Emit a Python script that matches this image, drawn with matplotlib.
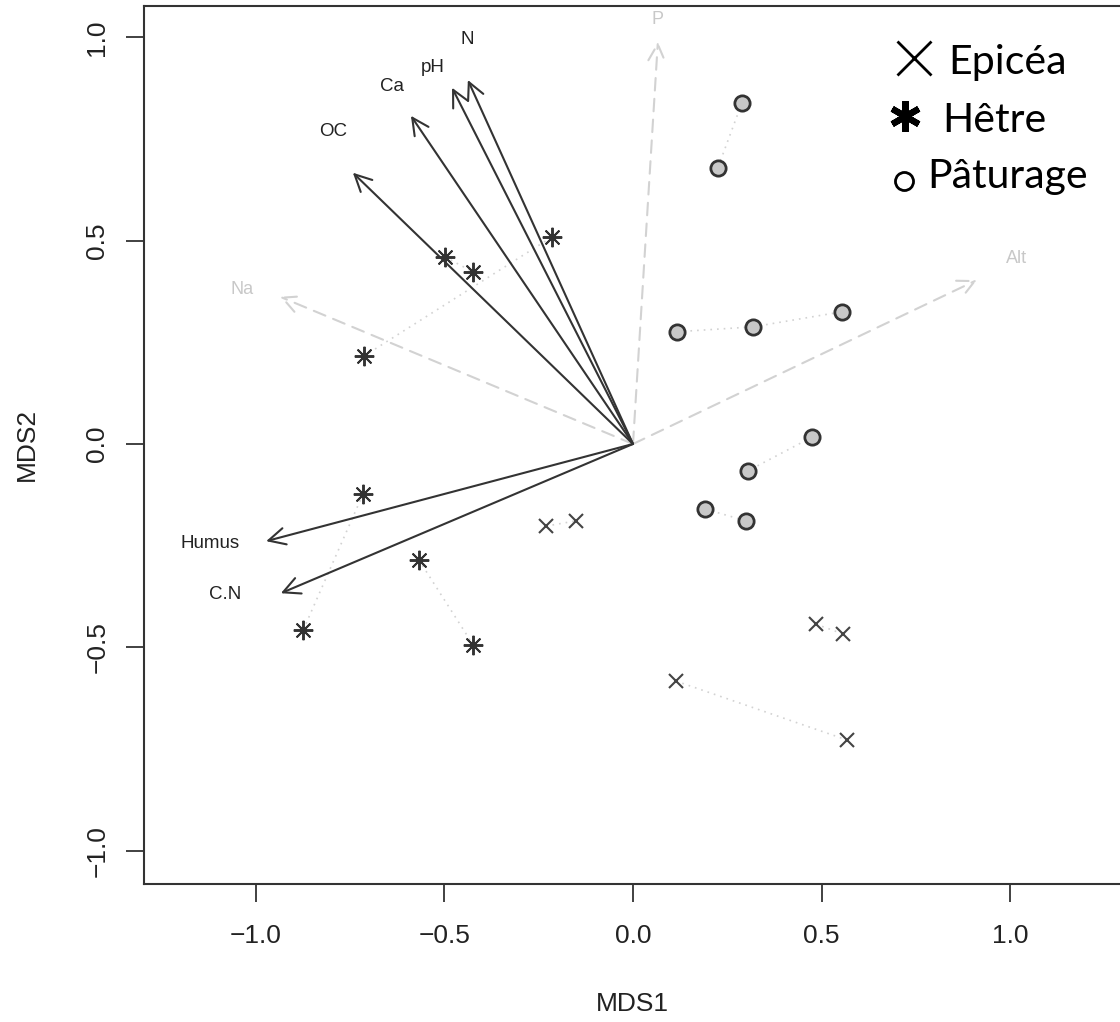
import matplotlib.pyplot as plt
from matplotlib.lines import Line2D

plt.rcParams['font.family'] = ['Liberation Sans', 'DejaVu Sans']

# ---- data ----
# fitted environmental vectors (solid = significant)
env_names = ['OC', 'Ca', 'pH', 'N', 'Humus', 'C.N']
env_x = [-0.743, -0.589, -0.480, -0.438, -0.973, -0.934]
env_y = [0.667, 0.807, 0.876, 0.895, -0.239, -0.367]
env_lab_x = [-0.796, -0.639, -0.530, -0.440, -1.122, -1.082]
env_lab_y = [0.768, 0.878, 0.925, 0.994, -0.244, -0.369]

# non-significant vectors (grey, dashed)
ns_names = ['P', 'Na', 'Alt']
ns_x = [0.066, -0.936, 0.912]
ns_y = [0.989, 0.362, 0.403]
ns_lab_x = [0.066, -1.037, 1.018]
ns_lab_y = [1.043, 0.379, 0.455]

# site scores
epicea_x = [-0.231, -0.151, 0.485, 0.557, 0.114, 0.568]
epicea_y = [-0.202, -0.189, -0.443, -0.467, -0.583, -0.728]
epicea_links = [(0, 1), (2, 3), (4, 5)]

hetre_x = [-0.215, -0.499, -0.424, -0.714, -0.716, -0.568, -0.875, -0.424]
hetre_y = [0.509, 0.460, 0.423, 0.216, -0.123, -0.285, -0.458, -0.494]
hetre_links = [(3, 0), (1, 2), (4, 6), (5, 7)]

patur_x = [0.289, 0.225, 0.117, 0.318, 0.554, 0.475, 0.305, 0.191, 0.300]
patur_y = [0.839, 0.679, 0.276, 0.288, 0.325, 0.017, -0.066, -0.160, -0.189]
patur_links = [(0, 1), (2, 3), (3, 4), (5, 6), (7, 8)]

ticks = [-1.0, -0.5, 0.0, 0.5, 1.0]

DARK = '#333333'
LIGHT = '#d2d2d2'

fig = plt.figure(figsize=(11.2, 10.22), dpi=100)
ax = fig.add_axes([144 / 1120, 138 / 1022, 981 / 1120, 878 / 1022])
ax.set_xlim(-1.297, 1.305)
ax.set_ylim(-1.082, 1.077)

# dotted links between paired sites
for xs, ys, links in [(epicea_x, epicea_y, epicea_links),
                      (hetre_x, hetre_y, hetre_links),
                      (patur_x, patur_y, patur_links)]:
    for a, b in links:
        ax.plot([xs[a], xs[b]], [ys[a], ys[b]], ls=(0, (1, 3)), color=LIGHT,
                lw=1.2, zorder=1)

# grey dashed arrows
for name, x, y, lx, ly in zip(ns_names, ns_x, ns_y, ns_lab_x, ns_lab_y):
    ax.annotate('', xy=(x, y), xytext=(0, 0),
                arrowprops=dict(arrowstyle='->,head_length=0.6,head_width=0.3',
                                color=LIGHT, lw=1.5, ls=(0, (6, 4)),
                                shrinkA=0, shrinkB=0, mutation_scale=20),
                zorder=2)
    ax.text(lx, ly, name, ha='center', va='center', fontsize=13, color='#c8c8c8')

# solid arrows
for name, x, y, lx, ly in zip(env_names, env_x, env_y, env_lab_x, env_lab_y):
    ax.annotate('', xy=(x, y), xytext=(0, 0),
                arrowprops=dict(arrowstyle='->,head_length=0.6,head_width=0.3',
                                color=DARK, lw=1.5,
                                shrinkA=0, shrinkB=0, mutation_scale=20),
                zorder=3)
    ax.text(lx, ly, name, ha='center', va='center', fontsize=13.5, color='#222222')

# site points
ax.plot(epicea_x, epicea_y, ls='none', marker='x', ms=10, mew=1.5,
        color='#444444', zorder=4)
ax.plot(hetre_x, hetre_y, ls='none', marker=(8, 2, 0), ms=14, mew=1.4,
        color=DARK, zorder=4)
ax.plot(patur_x, patur_y, ls='none', marker='o', ms=11, mew=2,
        mfc='#c8c8c8', mec=DARK, zorder=4)

# axes styling (R-like box)
for side in ['left', 'bottom', 'top']:
    ax.spines[side].set_linewidth(1.5)
    ax.spines[side].set_color(DARK)
ax.spines['right'].set_visible(False)

ax.set_xticks(ticks)
ax.set_yticks(ticks)
ax.set_xticklabels([f'{t:.1f}'.replace('-', '\u2212') for t in ticks])
ax.set_yticklabels([f'{t:.1f}'.replace('-', '\u2212') for t in ticks],
                   rotation=90, va='center')
ax.tick_params(length=13, width=1.3, color=DARK, labelsize=19,
               labelcolor='#222222')
ax.tick_params(axis='x', pad=16)
ax.tick_params(axis='y', pad=12)

fig.text(632 / 1120, 1 - 1004 / 1022, 'MDS1', ha='center', va='center',
         fontsize=19, color='#222222')
fig.text(27 / 1120, 1 - 444 / 1022, 'MDS2', ha='center', va='center',
         rotation=90, fontsize=19, color='#222222')

# hand-made legend (top right)
leg_font = ['Lato', 'DejaVu Sans']
fig.add_artist(Line2D([914 / 1120], [1 - 58 / 1022], ls='none', marker='x',
                      ms=24, mew=2, color='black', transform=fig.transFigure))
fig.add_artist(Line2D([905 / 1120], [1 - 116 / 1022], ls='none',
                      marker=(6, 2, 0), ms=22, mew=4.5, color='black',
                      transform=fig.transFigure))
fig.add_artist(Line2D([904 / 1120], [1 - 181 / 1022], ls='none', marker='o',
                      ms=13, mew=2, mfc='none', mec='black',
                      transform=fig.transFigure))
fig.text(948 / 1120, 1 - 74 / 1022, 'Epicéa', ha='left', va='baseline',
         fontsize=29.5, family=leg_font, color='black')
fig.text(942 / 1120, 1 - 132 / 1022, 'Hêtre', ha='left', va='baseline',
         fontsize=29.5, family=leg_font, color='black')
fig.text(927 / 1120, 1 - 188 / 1022, 'Pâturage', ha='left', va='baseline',
         fontsize=29.5, family=leg_font, color='black')

fig.savefig('out.png', dpi=100, facecolor='white')
